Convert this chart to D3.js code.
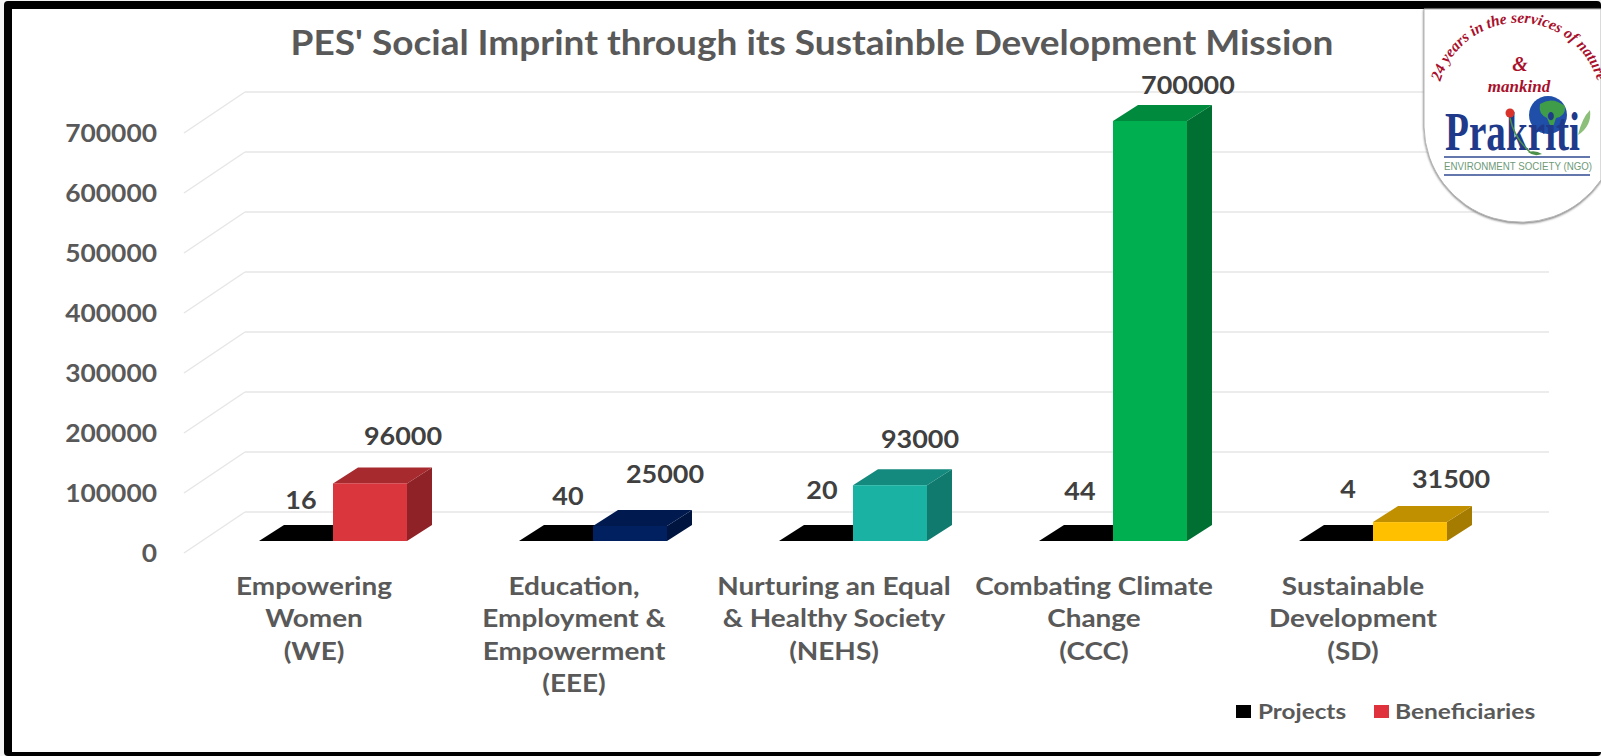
<!DOCTYPE html>
<html><head><meta charset="utf-8">
<script src="https://cdn.jsdelivr.net/npm/d3@7"></script>
<style>html,body{margin:0;padding:0;background:#fff}svg{display:block}text{font-family:Lato,sans-serif;font-weight:700}</style>
</head><body><svg id="c" width="1601" height="756"></svg>
<script>
const title = "PES' Social Imprint through its Sustainble Development Mission";
const categories = ["WE","EEE","NEHS","CCC","SD"];
const categoryLabels = [
  ["Empowering","Women","(WE)"],
  ["Education,","Employment &","Empowerment","(EEE)"],
  ["Nurturing an Equal","& Healthy Society","(NEHS)"],
  ["Combating Climate","Change","(CCC)"],
  ["Sustainable","Development","(SD)"]];
const seriesNames = ["Projects","Beneficiaries"];
const projects = [16,40,20,44,4];
const beneficiaries = [96000,25000,93000,700000,31500];
const barColors = ["#d9363e","#002060","#1ab3a3","#00b050","#ffc000"];
const sideColors = ["#8f2226","#001440","#117a6f","#006f32","#a67c00"];
const topColors = ["#a62a2e","#001a50","#14897d","#008a3e","#c09000"];
const yTicks = [0,100000,200000,300000,400000,500000,600000,700000];
// hand-placed label anchors of the original chart
const projectLabelPos = [[301,509],[568,505],[822,499],[1080,500],[1348,498]];
const beneficiaryLabelPos = [[403,445],[665,483],[920,448],[1188,94],[1451,488]];
const categoryLabelX = [314,574,834,1094,1353];

const svg = d3.select("#c");
const W=1601,H=756;
svg.append("rect").attr("width",W).attr("height",H).attr("fill","#f4f4f4");
svg.append("rect").attr("x",4).attr("y",1).attr("width",W-4).attr("height",H-1).attr("rx",4).attr("fill","#000");
svg.append("rect").attr("x",12).attr("y",9).attr("width",W-12).attr("height",H-13).attr("fill","#fff");

function st(parent,x,y,s,txt,size,fill,anchor){
  return parent.append("text").attr("transform",`translate(${x},${y}) scale(${s},1)`)
    .attr("text-anchor",anchor||"middle").attr("font-size",size).attr("fill",fill).text(txt);
}

const dx=25, dy=16, backY=29;
const y = d3.scaleLinear().domain([0,700000]).range([541,121]);
const x0 = d3.scaleBand().domain(categories).range([203,1503]);
const x1 = d3.scaleBand().domain(seriesNames).range([56,204]);

// gridlines + diagonal wall
const g = svg.append("g");
yTicks.forEach(t=>{
  const yb=y(t)-backY;
  g.append("line").attr("x1",245).attr("x2",1549).attr("y1",yb).attr("y2",yb).attr("stroke","#e6e6e6").attr("stroke-width",1.4);
  g.append("line").attr("x1",184).attr("x2",245).attr("y1",yb+41).attr("y2",yb).attr("stroke","#e6e6e6").attr("stroke-width",1.4);
});
const axis = svg.append("g").attr("transform","translate(157,13)")
  .call(d3.axisLeft(y).tickValues(yTicks).tickSize(0).tickPadding(0).tickFormat(d=>d));
axis.select(".domain").remove();
axis.selectAll("text").attr("x",0).attr("font-size",24).attr("fill","#595959").attr("transform","scale(1.1,1)");

st(svg,812,55,1.105,title,33.5,"#595959");

// bars
function box(gp,x,w,yTop,base,front,side,top){
  const pts=a=>a.map(p=>p.join(",")).join(" ");
  gp.append("polygon").attr("points",pts([[x+w,yTop],[x+w+dx,yTop-dy],[x+w+dx,base-dy],[x+w,base]])).attr("fill",side);
  gp.append("polygon").attr("points",pts([[x,yTop],[x+dx,yTop-dy],[x+w+dx,yTop-dy],[x+w,yTop]])).attr("fill",top);
  gp.append("rect").attr("x",x).attr("y",yTop).attr("width",w).attr("height",Math.max(0,base-yTop)).attr("fill",front);
}
const bars=svg.append("g");
categories.forEach((c,i)=>{
  const bw=x1.bandwidth();
  box(bars,x0(c)+x1("Projects"),bw,y(projects[i]),y(0),"#000","#000","#000");
  box(bars,x0(c)+x1("Beneficiaries"),bw,y(beneficiaries[i]),y(0),barColors[i],sideColors[i],topColors[i]);
  st(bars,projectLabelPos[i][0],projectLabelPos[i][1],1.1,projects[i],24.5,"#404040");
  st(bars,beneficiaryLabelPos[i][0],beneficiaryLabelPos[i][1],1.1,beneficiaries[i],24.5,"#404040");
  categoryLabels[i].forEach((s,j)=>st(svg,categoryLabelX[i],595+j*32.3,1.14,s,24.5,"#595959"));
});

// legend
const lg=svg.append("g");
lg.append("rect").attr("x",1236).attr("y",705).attr("width",15).attr("height",13).attr("fill","#000");
st(lg,1258,719,1.13,seriesNames[0],21.5,"#595959","start");
lg.append("rect").attr("x",1374).attr("y",705).attr("width",15).attr("height",13).attr("fill","#e0323c");
st(lg,1395,719,1.14,seriesNames[1],21.5,"#595959","start");

// logo
const logo=svg.append("g");
const defs=svg.append("defs");
defs.append("path").attr("id","arc").attr("d","M1438,92 A82,82 0 0 1 1600,92");
logo.append("path").attr("d","M1424,9 L1424,127 A97,97 0 0 0 1601,180 L1601,9 Z").attr("fill","#fff").attr("stroke","#b5b5b5").attr("stroke-width",1)
  .style("filter","drop-shadow(0 1px 1px #777)");
const serif="'Liberation Serif',serif";
const red="#a8102c";
logo.append("text").attr("font-size",15.5).attr("fill",red).style("font-family",serif).style("font-style","italic").style("font-weight",700)
 .append("textPath").attr("href","#arc").attr("startOffset","50%").attr("text-anchor","middle").text("24 years in the services of nature");
logo.append("text").attr("x",1520).attr("y",71).attr("text-anchor","middle").attr("font-size",20).attr("fill",red).style("font-family",serif).style("font-style","italic").style("font-weight",700).text("&");
logo.append("text").attr("x",1519).attr("y",92).attr("text-anchor","middle").attr("font-size",17).attr("fill",red).style("font-family",serif).style("font-style","italic").style("font-weight",700).text("mankind");
// globe
logo.append("circle").attr("cx",1548).attr("cy",115).attr("r",19).attr("fill","#1f4fa8");
logo.append("path").attr("d","M1540,104 Q1552,96 1565,106 Q1566,116 1556,118 L1552,130 L1547,118 Q1538,114 1540,104 Z").attr("fill","#3f9d4a");
// Prakriti wordmark
logo.append("text").attr("x",1445).attr("y",150).attr("font-size",54).attr("fill","#1f3a8a").style("font-family",serif).style("font-weight",700)
  .attr("textLength",135).attr("lengthAdjust","spacingAndGlyphs").text("Prakriti");
// flower and leaves
logo.append("path").attr("d","M1510,118 Q1514,138 1530,152").attr("fill","none").attr("stroke","#4c8f4a").attr("stroke-width",1.5);
logo.append("circle").attr("cx",1510).attr("cy",113).attr("r",4.5).attr("fill","#d8322a");
logo.append("path").attr("d","M1578,135 Q1582,118 1590,110 Q1592,126 1578,135 Z").attr("fill","#8cbf7a");
logo.append("path").attr("d","M1528,152 Q1536,150 1542,154 Q1534,157 1528,152 Z").attr("fill","#4c8f4a");
logo.append("line").attr("x1",1444).attr("x2",1590).attr("y1",157).attr("y2",157).attr("stroke","#2f4a90").attr("stroke-width",1.5);
logo.append("line").attr("x1",1444).attr("x2",1590).attr("y1",175).attr("y2",175).attr("stroke","#2f4a90").attr("stroke-width",1.5);
logo.append("text").attr("x",1444).attr("y",170).attr("font-size",10.5).attr("fill","#6e9a78").style("font-family","'Liberation Sans',sans-serif").style("font-weight",400)
  .attr("textLength",148).attr("lengthAdjust","spacingAndGlyphs").text("ENVIRONMENT SOCIETY (NGO)");
</script></body></html>
